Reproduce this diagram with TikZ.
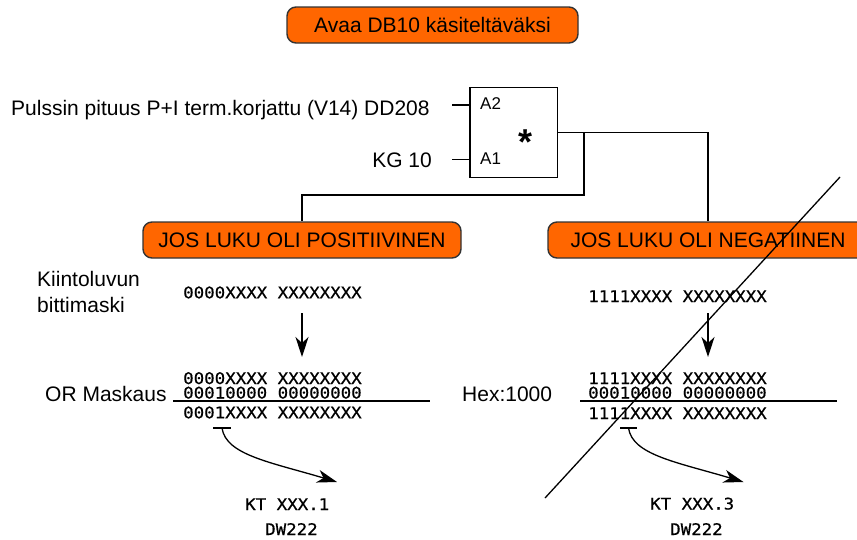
\documentclass[tikz,border=0pt]{standalone}
\usepackage{fontspec}
\setmainfont{Liberation Sans}
\newfontfamily\monof{DejaVu Sans Mono}[FakeStretch=1.09,FakeBold=0.6]
\usetikzlibrary{arrows.meta}
\definecolor{boxorange}{HTML}{FF6600}
\definecolor{boxedge}{HTML}{333333}
\begin{document}
\begin{tikzpicture}[x=1pt,y=-1pt,
  lbl/.style={font=\fontsize{21}{25}\selectfont, inner sep=0pt},
  mono/.style={font=\monof\fontsize{16}{18}\selectfont, inner sep=0pt, anchor=base west},
  obox/.style={draw=boxedge, fill=boxorange, rounded corners=9pt, line width=1.4pt,
    font=\fontsize{21}{25}\selectfont, inner sep=0pt, minimum height=36pt},
  wire/.style={line width=1.3pt},
  arr/.style={line width=1.3pt, -{Stealth[length=20pt,width=13pt,inset=6pt]}},
  pin/.style={font=\fontsize{17}{20}\selectfont, inner sep=0pt, anchor=west},
]
\clip (0,0) rectangle (857,539);
\fill[white] (0,0) rectangle (857,539);

% orange boxes
\node[obox, minimum width=291pt] (title) at (432.5,25) {Avaa DB10 käsiteltäväksi};
\node[obox, minimum width=318pt] (pos) at (302,240) {JOS LUKU OLI POSITIIVINEN};
\node[obox, minimum width=320pt] (neg) at (708,240) {JOS LUKU OLI NEGATIINEN};

% multiplier block
\node[draw, line width=1.3pt, minimum width=87.5pt, minimum height=90pt, inner sep=0pt] (mul) at (513.7,132.3) {};
\node[pin] (a2) at (480,104) {A2};
\node[pin] (a1) at (480,159) {A1};
\node[font=\fontsize{36}{40}\selectfont\bfseries, inner sep=0pt, anchor=base] (star) at (525,154) {*};

% input labels
\node[lbl, anchor=base west] (pulssin) at (11,115) {Pulssin pituus P+I term.korjattu (V14) DD208};
\node[lbl, anchor=base east] (kg) at (432,167) {KG 10};
\coordinate (a2in) at (452,105);
\coordinate (a1in) at (452,159.3);
\draw[wire] (a2in) -- (a2in -| mul.west);
\draw[wire] (a1in) -- (a1in -| mul.west);

% output wiring
\coordinate (br) at (584,132.3);
\coordinate (brlow) at (584,195);
\draw[wire] (mul.east) -- (mul.east -| neg.north) -- (neg.north);
\draw[wire] (br) -- (brlow) -| (pos.north);

% left column
\node[lbl, anchor=base west] (kiin) at (37,286) {Kiintoluvun};
\node[lbl, anchor=base west] (bitti) at (37,312.5) {bittimaski};
\node[mono] (pmask) at (183,298.3) {0000XXXX XXXXXXXX};
\coordinate (parrs) at (302,313);
\coordinate (parre) at (302,357);
\draw[arr] (parrs) -- (parre);
\node[lbl, anchor=base west] (ormask) at (45,401) {OR Maskaus};
\node[mono] (pr1) at (183,384) {0000XXXX XXXXXXXX};
\node[mono] (pr2) at (183,398.5) {00010000 00000000};
\node[mono] (pr3) at (183,418.3) {0001XXXX XXXXXXXX};
\coordinate (prl) at (173,401);
\coordinate (prr) at (430,401);
\draw[wire] (prl) -- (prr);
\coordinate (pt1) at (213,428);
\coordinate (pt2) at (231,428);
\coordinate (ptc) at (222,428);
\coordinate (pte) at (337,482);
\draw[wire] (pt1) -- (pt2);
\draw[arr] (ptc) .. controls (226,455) and (270,462) .. (pte);
\node[mono] (kt1) at (245,510) {KT XXX.1};
\node[mono] (dw1) at (265,535) {DW222};

% right column
\node[mono] (nmask) at (588,302) {1111XXXX XXXXXXXX};
\coordinate (narrs) at (708,313);
\coordinate (narre) at (708,357);
\draw[arr] (narrs) -- (narre);
\node[lbl, anchor=base west] (hex) at (462,401) {Hex:1000};
\node[mono] (nr1) at (588,384) {1111XXXX XXXXXXXX};
\node[mono] (nr2) at (588,398.5) {00010000 00000000};
\node[mono] (nr3) at (588,419) {1111XXXX XXXXXXXX};
\coordinate (nrl) at (580,401);
\coordinate (nrr) at (837,401);
\draw[wire] (nrl) -- (nrr);
\coordinate (nt1) at (620,428);
\coordinate (nt2) at (637,428);
\coordinate (ntc) at (628.5,428);
\coordinate (nte) at (743.5,482);
\draw[wire] (nt1) -- (nt2);
\draw[arr] (ntc) .. controls (632.5,455) and (676.5,462) .. (nte);
\node[mono] (kt3) at (650,509.5) {KT XXX.3};
\node[mono] (dw3) at (670,535) {DW222};

% strike-through diagonal
\coordinate (dga) at (545,498);
\coordinate (dgb) at (840,177);
\draw[wire] (dga) -- (dgb);
\end{tikzpicture}
\end{document}
